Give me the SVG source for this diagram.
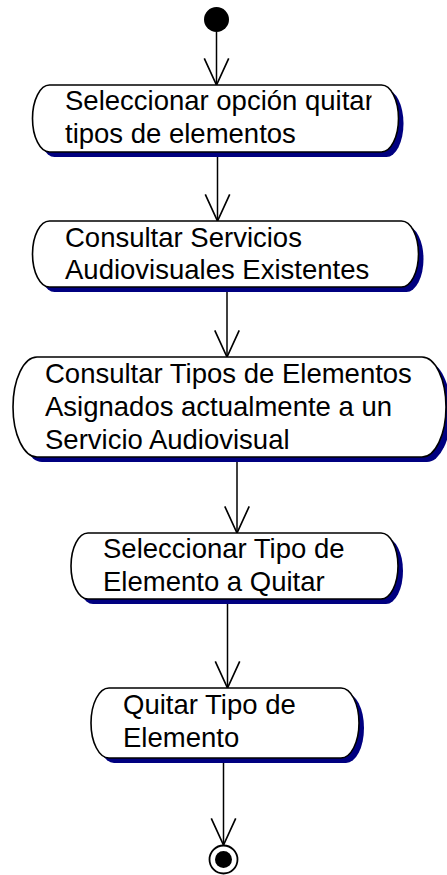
<svg xmlns="http://www.w3.org/2000/svg" width="447" height="875" viewBox="0 0 447 875">
<style>
.shadow{fill:#000080;stroke:none}
.box{fill:#ffffff;stroke:#000000;stroke-width:1.6}
.lbl{font-family:"Liberation Sans",Arial,sans-serif;font-size:27.5px;fill:#000000}
.edge{stroke:#000000;stroke-width:1.5;fill:none}
</style>
<defs>
<marker id="arr" markerUnits="userSpaceOnUse" markerWidth="30" markerHeight="30" viewBox="-25 -12 27 24" refX="0" refY="0" orient="auto" overflow="visible">
<path d="M-24,-11 L0,0 L-24,11" fill="none" stroke="#000000" stroke-width="1.5"/>
</marker>
<clipPath id="c1"><rect x="30" y="80" width="341.5" height="80"/></clipPath>
</defs>
<rect width="447" height="875" fill="#ffffff"/>
<g id="connectors">
<line class="edge" x1="216.5" y1="32" x2="216.5" y2="85" marker-end="url(#arr)"/>
<line class="edge" x1="217.5" y1="152" x2="217.5" y2="221" marker-end="url(#arr)"/>
<line class="edge" x1="227" y1="287" x2="227" y2="357" marker-end="url(#arr)"/>
<line class="edge" x1="237" y1="457" x2="237" y2="533" marker-end="url(#arr)"/>
<line class="edge" x1="227.5" y1="599" x2="227.5" y2="688" marker-end="url(#arr)"/>
<line class="edge" x1="223.5" y1="758" x2="223.5" y2="845" marker-end="url(#arr)"/>
</g>
<g id="start">
<circle cx="216.5" cy="19.5" r="12.5" fill="#000000"/>
</g>
<g id="node1">
<rect class="shadow" x="37.5" y="90" width="366" height="67" rx="17" ry="33.5"/>
<rect class="box" x="32.5" y="85" width="366" height="67" rx="17" ry="33.5"/>
<g clip-path="url(#c1)">
<text class="lbl" x="65" y="110">Seleccionar opción quitar</text>
<text class="lbl" x="65" y="143">tipos de elementos</text>
</g>
</g>
<g id="node2">
<rect class="shadow" x="37.5" y="226" width="386" height="66" rx="17" ry="33"/>
<rect class="box" x="32.5" y="221" width="386" height="66" rx="17" ry="33"/>
<text class="lbl" x="65" y="247">Consultar Servicios</text>
<text class="lbl" x="65" y="279">Audiovisuales Existentes</text>
</g>
<g id="node3">
<rect class="shadow" x="18" y="362" width="433" height="100" rx="24" ry="50"/>
<rect class="box" x="13" y="357" width="433" height="100" rx="24" ry="50"/>
<text class="lbl" x="45" y="383">Consultar Tipos de Elementos</text>
<text class="lbl" x="45" y="416">Asignados actualmente a un</text>
<text class="lbl" x="45" y="449">Servicio Audiovisual</text>
</g>
<g id="node4">
<rect class="shadow" x="76" y="538" width="327" height="66" rx="17" ry="33"/>
<rect class="box" x="71" y="533" width="327" height="66" rx="17" ry="33"/>
<text class="lbl" x="103" y="558">Seleccionar Tipo de</text>
<text class="lbl" x="103" y="591">Elemento a Quitar</text>
</g>
<g id="node5">
<rect class="shadow" x="96" y="693" width="268" height="70" rx="18" ry="35"/>
<rect class="box" x="91" y="688" width="268" height="70" rx="18" ry="35"/>
<text class="lbl" x="123" y="714">Quitar Tipo de</text>
<text class="lbl" x="123" y="747">Elemento</text>
</g>
<g id="end">
<circle cx="223.5" cy="859.5" r="14" fill="#ffffff" stroke="#000000" stroke-width="1.8"/>
<circle cx="223.5" cy="859.5" r="8.5" fill="#000000"/>
</g>
</svg>
